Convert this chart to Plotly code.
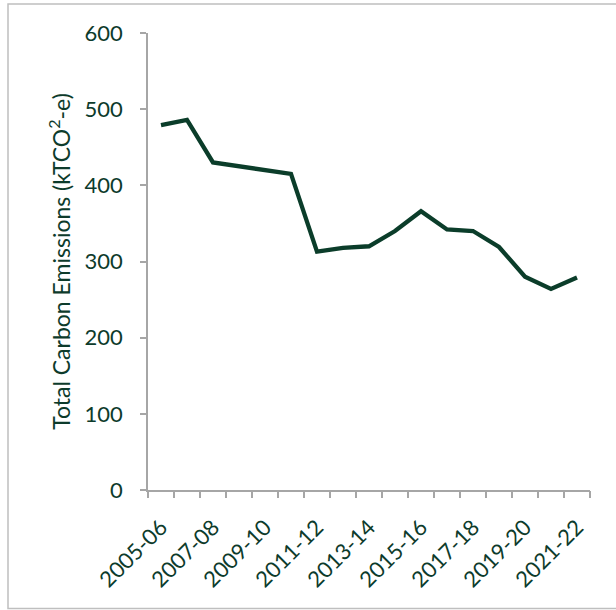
import plotly.graph_objects as go

years = ["2005-06", "2006-07", "2007-08", "2008-09", "2009-10", "2010-11", "2011-12",
         "2012-13", "2013-14", "2014-15", "2015-16", "2016-17", "2017-18", "2018-19",
         "2019-20", "2020-21", "2021-22"]
emissions = [479, 486, 430, 425, 420, 415, 313, 318, 320, 340, 366, 342, 340, 319, 280, 264, 279]
labelled = years[::2]

txt = "#0d3b2b"
axis_col = "#a6a6a6"
FONT = "Lato"

n = len(years)
fig = go.Figure()
fig.add_trace(go.Scatter(x=years, y=emissions, mode="lines",
                         line=dict(color="#0b3d2a", width=4.3), showlegend=False,
                         hoverinfo="x+y"))
# invisible helper trace so the tick-only overlay axis is drawn
fig.add_trace(go.Scatter(x=[-0.5, n - 0.5], y=[0, 0], xaxis="x2", mode="lines",
                         line=dict(width=0, color="rgba(0,0,0,0)"),
                         showlegend=False, hoverinfo="skip"))

L, R, T, B = 148, 26, 33, 120
W, H = 616, 610
pw, ph = W - L - R, H - T - B

fig.update_layout(
    width=W, height=H,
    margin=dict(l=L, r=R, t=T, b=B),
    paper_bgcolor="white", plot_bgcolor="white",
    font=dict(family=FONT, color=txt, size=22),
    xaxis=dict(type="category", range=[-0.5, n - 0.5],
               categoryorder="array", categoryarray=years,
               tickmode="array", tickvals=labelled, ticktext=labelled,
               ticks="", ticklabelstandoff=14,
               showline=True, linecolor=axis_col, linewidth=1.5,
               showgrid=False, tickangle=-45, tickfont=dict(size=22, color=txt)),
    xaxis2=dict(type="linear", overlaying="x", anchor="y", side="bottom",
                range=[-0.5, n - 0.5], tickmode="linear", tick0=-0.5, dtick=1,
                ticks="outside", ticklen=7, tickcolor=axis_col, tickwidth=1.5,
                showticklabels=False, showgrid=False, zeroline=False, showline=False),
    yaxis=dict(range=[0, 600], dtick=100, tickmode="linear",
               ticks="outside", ticklen=6, tickcolor=axis_col, tickwidth=1.5,
               showline=True, linecolor=axis_col, linewidth=1.5,
               showgrid=False, zeroline=False, tickfont=dict(size=22, color=txt),
               ticklabelstandoff=13,
               title=dict(text="Total Carbon Emissions (kTCO<sup>2</sup>-e)",
                          font=dict(size=23, color=txt), standoff=8)),
    shapes=[dict(type="rect", xref="paper", yref="paper",
                 x0=(8 - L) / pw, x1=(W + 10 - L) / pw,
                 y0=(T + ph - 608.5) / ph, y1=(T + ph - 4) / ph,
                 line=dict(color="#bfbfbf", width=1.5), fillcolor="rgba(0,0,0,0)",
                 layer="below")],
)

fig.write_html("out.html")
